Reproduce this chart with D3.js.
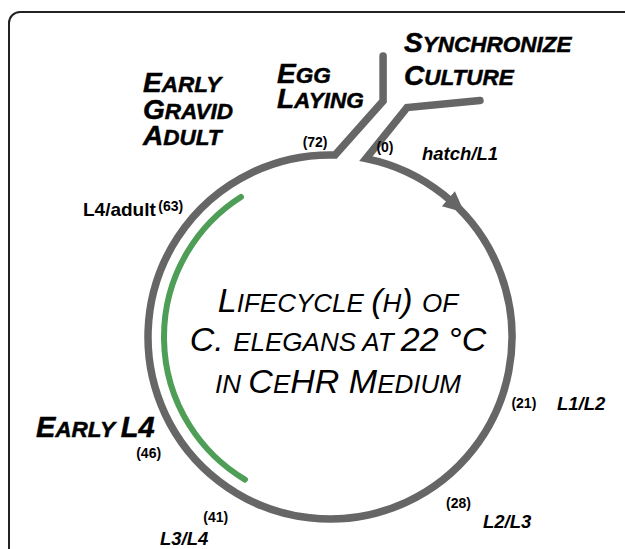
<!DOCTYPE html>
<meta charset="utf-8">
<style>
body { margin: 0; background: #fff; }
text { font-family: "Liberation Sans", Arial, Helvetica, sans-serif; fill: #000; }
.head { stroke: #000; stroke-width: 0.5; }
</style>
<svg id="thevis" width="625" height="549"></svg>
<script src="https://d3js.org/d3.v7.min.js"></script>
<script>

// values (hours after synchronisation)
var stageHours = [0, 21, 28, 41, 46, 63, 72];
var hourLabels = ["(0)", "(21)", "(28)", "(41)", "(46)", "(63)", "(72)"];
var stageNames = ["hatch/L1", "L1/L2", "L2/L3", "L3/L4", "Early L4", "L4/adult", ""];
var greenHours = [41, 65];   // the inner green band
var arrowHour = 6;
var titleLines = ["Lifecycle (h) of", "C. elegans at 22 °C", "in CeHR Medium"];
var phaseHeads = [["Synchronize", "Culture"], ["Egg", "Laying"], ["Early", "Gravid", "Adult"]];

var svg = d3.select("svg");
var cx = 330, cy = 337, R = 182, rGreen = 166;

// hours -> compass angle (degrees, clockwise from 12 o'clock)
var angle = d3.scaleLinear().domain([0, 72]).range([11.4, 361.6]);
var rad = d => d * Math.PI / 180;
function polar(deg, r) {
    return [cx + r * Math.sin(rad(deg)), cy - r * Math.cos(rad(deg))];
}

// frame (cut by the page edges)
svg.append("rect")
    .attr("x", 9).attr("y", 12).attr("width", 700).attr("height", 700)
    .attr("rx", 11).attr("fill", "none")
    .attr("stroke", "#222").attr("stroke-width", 2);

// main grey cycle with the two branches at the top
var start = polar(angle(0), R), end = polar(angle(72), R);
var p = d3.path();
p.moveTo(start[0] + 114, start[1] - 58);
p.lineTo(start[0] + 41, start[1] - 51);
p.lineTo(start[0], start[1]);
p.arc(cx, cy, R, rad(angle(0) - 90), rad(angle(72) - 90), false);
p.lineTo(end[0] + 48, end[1] - 54);
p.lineTo(end[0] + 48, end[1] - 99);

svg.append("path")
    .attr("d", p.toString())
    .attr("fill", "none")
    .attr("stroke", "#666").attr("stroke-width", 7.5)
    .attr("stroke-linejoin", "miter").attr("stroke-linecap", "round");

// arrow head
var ab = angle(arrowHour), B = polar(ab, R);
var t = [Math.cos(rad(ab)), Math.sin(rad(ab))], n = [Math.sin(rad(ab)), -Math.cos(rad(ab))];
var L = 21, W = 10;
svg.append("path")
    .attr("d", d3.line()([
        [B[0] + L * t[0], B[1] + L * t[1]],
        [B[0] + W * n[0], B[1] + W * n[1]],
        [B[0] - W * n[0], B[1] - W * n[1]]
    ]) + "Z")
    .attr("fill", "#666");

// green band
var g = d3.path();
g.arc(cx, cy, rGreen, rad(angle(greenHours[0]) - 90), rad(angle(greenHours[1]) - 90), false);
svg.append("path")
    .attr("d", g.toString())
    .attr("fill", "none")
    .attr("stroke", "#4f9e58").attr("stroke-width", 6)
    .attr("stroke-linecap", "round");

// small caps helper: lowercase letters become smaller capitals
function smallCaps(sel, str, big, small) {
    var runs = [], prev = false;
    for (var ch of str) {
        var sm = ch === " " ? prev : ch !== ch.toUpperCase();
        if (runs.length && runs[runs.length - 1].sm === sm) runs[runs.length - 1].s += ch;
        else runs.push({sm: sm, s: ch});
        prev = sm;
    }
    sel.selectAll("tspan").data(runs).join("tspan")
        .attr("font-size", d => d.sm ? small : big)
        .text(d => d.s.toUpperCase());
}

// hour labels, placed next to their point on the circle
var numOffset = [[19, -11], [27, -6], [31, 13], [-21, 24], [-32, 12], [-37, 4], [-20, -13]];
svg.selectAll(".hour")
    .data(stageHours)
    .join("text")
    .attr("class", "hour")
    .attr("x", (d, i) => polar(angle(d), R)[0] + numOffset[i][0])
    .attr("y", (d, i) => polar(angle(d), R)[1] + numOffset[i][1] + 4.5)
    .attr("text-anchor", "middle")
    .attr("font-size", 14).attr("font-weight", "bold")
    .text((d, i) => hourLabels[i]);

// stage names
var namePos = [[422, 160], [557, 410], [483, 528], [160, 545], [36, 437], [83, 216]];
stageNames.forEach(function (s, i) {
    if (!s) return;
    var tx = svg.append("text")
        .attr("x", namePos[i][0]).attr("y", namePos[i][1])
        .attr("font-weight", "bold");
    if (i === 4) {
        tx.attr("font-style", "italic").attr("class", "head");
        smallCaps(tx, s, 29, 22.5);
    } else if (i === 5) {
        tx.attr("font-size", 19).text(s);
    } else {
        tx.attr("font-style", "italic").attr("font-size", 18.5).text(s);
    }
});

// phase headings
var headPos = [[404, 52, 33], [277, 83, 25], [143, 92, 26.5]];
phaseHeads.forEach(function (lines, i) {
    lines.forEach(function (s, j) {
        var tx = svg.append("text")
            .attr("class", "head")
            .attr("x", headPos[i][0]).attr("y", headPos[i][1] + j * headPos[i][2])
            .attr("font-weight", "bold").attr("font-style", "italic");
        smallCaps(tx, s, 28, 22.5);
    });
});

// centre title
var titleY = [312, 351, 393];
titleLines.forEach(function (s, i) {
    var tx = svg.append("text")
        .attr("x", 338).attr("y", titleY[i])
        .attr("text-anchor", "middle").attr("font-style", "italic");
    smallCaps(tx, s, 34, 26);
});

</script>
